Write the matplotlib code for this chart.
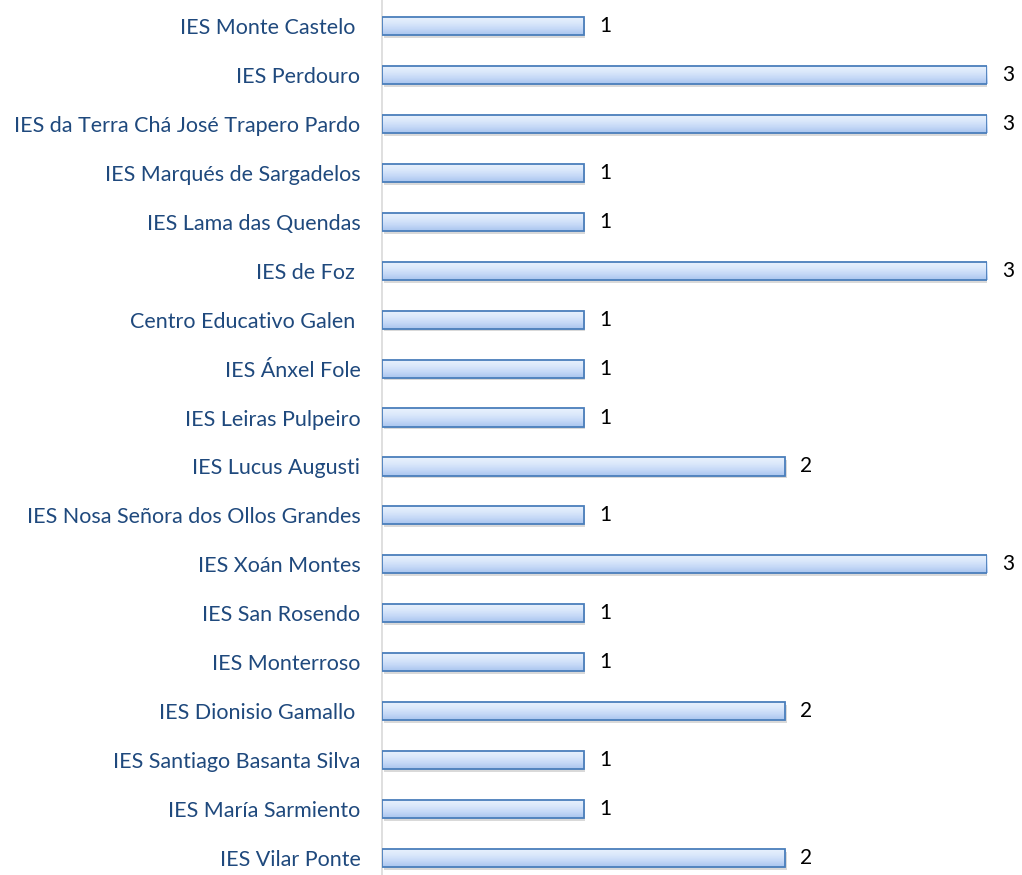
import numpy as np
import matplotlib.pyplot as plt
from matplotlib import patheffects
from matplotlib.colors import LinearSegmentedColormap

# Centros (de arriba a abaixo) e número de participacións
centros = [
    "IES Monte Castelo ",
    "IES Perdouro",
    "IES da Terra Chá José Trapero Pardo",
    "IES Marqués de Sargadelos",
    "IES Lama das Quendas",
    "IES de Foz ",
    "Centro Educativo Galen ",
    "IES Ánxel Fole",
    "IES Leiras Pulpeiro",
    "IES Lucus Augusti",
    "IES Nosa Señora dos Ollos Grandes",
    "IES Xoán Montes",
    "IES San Rosendo",
    "IES Monterroso",
    "IES Dionisio Gamallo ",
    "IES Santiago Basanta Silva",
    "IES María Sarmiento",
    "IES Vilar Ponte",
]
valores = [1, 3, 3, 1, 1, 3, 1, 1, 1, 2, 1, 3, 1, 1, 2, 1, 1, 2]

plt.rcParams['font.family'] = ['Lato', 'DejaVu Sans']

fig = plt.figure(figsize=(10.22, 8.75), dpi=100)
ax = fig.add_axes([382 / 1022, 0, 605 / 1022, 1])

n = len(centros)
y = np.arange(n)[::-1]
alto = 0.37

cmap = LinearSegmentedColormap.from_list('barra', ['#a9c5ef', '#c6d9f7', '#dce9fb', '#eaf2fd'])
grad = np.linspace(0, 1, 64).reshape(-1, 1)

barras = ax.barh(y, valores, height=alto, color='white', edgecolor='none', zorder=2)
for b in barras:
    b.set_path_effects([patheffects.SimplePatchShadow(offset=(1.2, -2.0), shadow_rgbFace='#000000', alpha=0.15),
                        patheffects.Normal()])
    x0, y0 = b.get_x(), b.get_y()
    x1, y1 = x0 + b.get_width(), y0 + b.get_height()
    im = ax.imshow(grad, extent=[x0, x1, y0, y1], origin='lower', aspect='auto', cmap=cmap, zorder=3)
    im.set_clip_path(b)
ax.barh(y, valores, height=alto, color='none', edgecolor='#4a7ebb', linewidth=1.3, zorder=4)

for yi, v in zip(y, valores):
    ax.text(v + 0.075, yi, str(v), va='center', ha='left', fontsize=15, color='black', clip_on=False)

ax.set_xlim(0, 3)
ax.set_ylim(-0.347, n - 1 + 0.53)
ax.set_yticks(y)
ax.set_yticklabels(centros, fontsize=15.5, color='#1f497d')
ax.tick_params(axis='y', length=0, pad=15.5)
ax.set_xticks([])
for s in ['top', 'right', 'bottom']:
    ax.spines[s].set_visible(False)
ax.spines['left'].set_color('#d9d9d9')
ax.spines['left'].set_linewidth(1.2)

fig.savefig('out.png', dpi=100)
